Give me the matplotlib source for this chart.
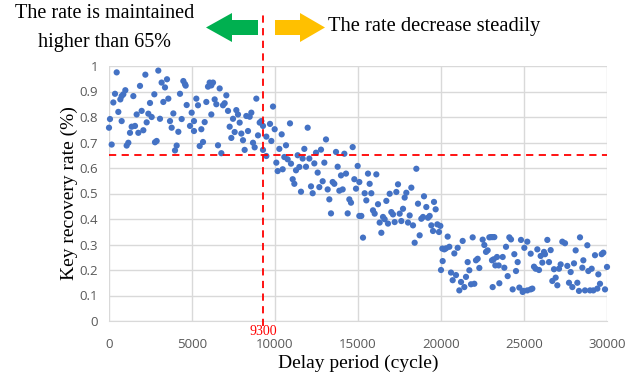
import matplotlib
matplotlib.use("Agg")
import matplotlib.pyplot as plt
from matplotlib.patches import Polygon

# Measured key recovery rate vs. delay period, grouped by 5000-cycle span
delay_0_5k = [463, 2190, 2970, 3170, 3494, 3373, 4478, 4578, 4618, 361, 261, 984, 863, 763, 683,
              1466, 1867, 2731, 2470, 3273, 3574, 4277, 562, 60, 0, 763, 1666, 1967, 2369, 2570,
              3072, 2269, 2068, 1767, 1566, 1365, 1265, 1165, 1064, 161, 2771, 2871, 3876, 3675,
              4378, 3775, 4177, 4679, 4980, 4880, 4076, 3976]
rate_0_5k = [0.975, 0.966, 0.982, 0.935, 0.948, 0.916, 0.941, 0.929, 0.923, 0.891, 0.857, 0.905,
             0.889, 0.882, 0.869, 0.882, 0.922, 0.889, 0.855, 0.859, 0.872, 0.891, 0.820, 0.792,
             0.758, 0.784, 0.810, 0.824, 0.813, 0.800, 0.793, 0.779, 0.748, 0.738, 0.765, 0.762,
             0.738, 0.699, 0.688, 0.692, 0.701, 0.706, 0.814, 0.784, 0.792, 0.758, 0.742, 0.847,
             0.817, 0.765, 0.688, 0.669]

delay_5k_10k = [5120, 5120, 6064, 6265, 5964, 6164, 6667, 7068, 5261, 5361, 5863, 6365, 6466, 6867,
                6968, 7169, 6164, 5763, 5562, 5663, 5462, 6566, 6767, 7269, 7470, 7670, 7771,
                7871, 8273, 8474, 8574, 7570, 7369, 7972, 8373, 8072, 8172, 8675, 8775, 8976,
                8876, 9078, 9177, 9277, 9478, 9277, 9478, 9880, 9980, 9779, 9699]
rate_5k_10k = [0.745, 0.784, 0.935, 0.935, 0.919, 0.924, 0.912, 0.885, 0.872, 0.846, 0.859, 0.869,
               0.850, 0.846, 0.854, 0.824, 0.810, 0.780, 0.752, 0.702, 0.686, 0.689, 0.658, 0.762,
               0.793, 0.827, 0.810, 0.778, 0.804, 0.801, 0.817, 0.741, 0.718, 0.735, 0.745, 0.709,
               0.671, 0.699, 0.681, 0.728, 0.872, 0.778, 0.784, 0.765, 0.723, 0.671, 0.647, 0.841,
               0.752, 0.706, 0.773]

delay_10k_15k = [10080, 10402, 10903, 11968, 10261, 10663, 10161, 10462, 10562, 10763, 10964,
                 11265, 11466, 11366, 11667, 11767, 11867, 12067, 12369, 12470, 12771, 13072,
                 12972, 12570, 11065, 11165, 11566, 12169, 12269, 12670, 12871, 13173, 13474,
                 13574, 13675, 13775, 13976, 14076, 13876, 14177, 14277, 14679, 14980, 14779,
                 14880, 14478, 14578, 13273, 13373, 14378]
rate_10k_15k = [0.621, 0.732, 0.775, 0.758, 0.675, 0.689, 0.588, 0.595, 0.643, 0.634, 0.617,
                0.591, 0.604, 0.650, 0.637, 0.675, 0.605, 0.637, 0.618, 0.660, 0.672, 0.712,
                0.621, 0.582, 0.556, 0.538, 0.507, 0.528, 0.501, 0.525, 0.548, 0.516, 0.545,
                0.538, 0.663, 0.605, 0.571, 0.516, 0.511, 0.656, 0.578, 0.682, 0.608, 0.556,
                0.519, 0.477, 0.464, 0.477, 0.422, 0.422]

delay_15k_20k = [15080, 15080, 15602, 16104, 15702, 15401, 15802, 15501, 15903, 16004, 15200,
                 15301, 16205, 16305, 16406, 16506, 16606, 16707, 16807, 16908, 17008, 17108,
                 17209, 17309, 17410, 17510, 17610, 17711, 17811, 17911, 18012, 18112, 18213,
                 18313, 18413, 18514, 18614, 18714, 18815, 18915, 18975, 19115, 19216, 19317,
                 19417, 19518, 19578, 19678, 19779, 19879, 19960]
rate_15k_20k = [0.545, 0.412, 0.578, 0.575, 0.538, 0.501, 0.501, 0.473, 0.434, 0.421, 0.412,
                0.327, 0.458, 0.386, 0.346, 0.408, 0.399, 0.471, 0.382, 0.499, 0.427, 0.418,
                0.388, 0.506, 0.536, 0.421, 0.392, 0.440, 0.484, 0.503, 0.386, 0.414, 0.523,
                0.375, 0.307, 0.597, 0.460, 0.336, 0.401, 0.408, 0.489, 0.447, 0.405, 0.412,
                0.375, 0.353, 0.467, 0.438, 0.379, 0.349, 0.373]

delay_20k_25k = [20080, 20402, 21908, 21305, 20200, 20301, 20502, 20803, 21004, 20100, 20000,
                 20602, 20904, 20703, 21205, 21406, 21104, 21606, 21707, 21506, 21807, 22008,
                 22108, 22209, 22309, 22510, 22610, 22711, 22811, 22912, 23012, 23112, 23213,
                 23273, 23373, 23474, 23072, 23173, 23112, 23514, 23715, 23815, 23916, 24016,
                 24116, 24217, 24317, 24417, 24518, 24618, 24718, 24819, 24920, 24960]
rate_20k_25k = [0.284, 0.331, 0.328, 0.314, 0.281, 0.285, 0.291, 0.265, 0.287, 0.235, 0.200,
                0.190, 0.180, 0.160, 0.153, 0.133, 0.120, 0.231, 0.199, 0.173, 0.144, 0.146,
                0.238, 0.244, 0.208, 0.319, 0.298, 0.271, 0.277, 0.328, 0.329, 0.329, 0.329,
                0.218, 0.251, 0.218, 0.238, 0.242, 0.133, 0.148, 0.251, 0.209, 0.291, 0.176,
                0.328, 0.320, 0.124, 0.262, 0.196, 0.231, 0.131, 0.318, 0.114, 0.118]

delay_25k_30k = [25020, 25200, 25402, 25602, 25702, 25803, 25904, 26004, 26104, 26205, 26265,
                 26406, 26506, 26606, 26707, 26807, 26908, 27008, 27108, 27209, 27309, 27470,
                 27610, 27711, 27811, 27912, 28012, 28112, 28213, 28313, 28373, 28514, 28574,
                 28675, 28815, 28875, 28976, 29076, 29177, 29277, 29418, 29478, 29578, 29679,
                 29779, 29880, 30000, 25200, 25402, 25502]
rate_25k_30k = [0.287, 0.311, 0.264, 0.213, 0.205, 0.281, 0.200, 0.255, 0.229, 0.271, 0.262,
                0.318, 0.231, 0.278, 0.157, 0.203, 0.170, 0.140, 0.205, 0.222, 0.311, 0.305,
                0.216, 0.150, 0.192, 0.133, 0.226, 0.277, 0.150, 0.118, 0.328, 0.209, 0.238,
                0.120, 0.297, 0.196, 0.120, 0.205, 0.120, 0.258, 0.127, 0.183, 0.146, 0.262,
                0.268, 0.124, 0.212, 0.120, 0.124, 0.127]

threshold_delay = 9300
threshold_rate = 0.65
x_ticks = [0, 5000, 10000, 15000, 20000, 25000, 30000]
y_ticks = [0, 0.1, 0.2, 0.3, 0.4, 0.5, 0.6, 0.7, 0.8, 0.9, 1]
y_tick_labels = ["0", "0.1", "0.2", "0.3", "0.4", "0.5", "0.6", "0.7", "0.8", "0.9", "1"]

delays = (delay_0_5k + delay_5k_10k + delay_10k_15k + delay_15k_20k
          + delay_20k_25k + delay_25k_30k)
rates = (rate_0_5k + rate_5k_10k + rate_10k_15k + rate_15k_20k
         + rate_20k_25k + rate_25k_30k)

W, H = 642, 380
fig = plt.figure(figsize=(W / 100, H / 100), dpi=100)
ax = fig.add_axes([109 / W, 1 - 321 / H, 498 / W, 255 / H])

SERIF = "Liberation Serif"
TICK_FONT = "Open Sans"
GRID = "#d9d9d9"

ax.scatter(delays, rates, s=20, color="#4472c4", edgecolors="none", zorder=3, clip_on=False)

ax.set_xlim(0, 30000)
ax.set_ylim(0, 1)
ax.set_xticks(x_ticks)
ax.set_yticks(y_ticks)
ax.set_yticklabels(y_tick_labels)
ax.grid(True, color=GRID, linewidth=1)
ax.set_axisbelow(True)
for side in ("top", "right", "left"):
    ax.spines[side].set_visible(False)
ax.spines["bottom"].set_color(GRID)
ax.tick_params(length=0, colors="#595959", labelsize=9.5)
ax.tick_params(axis="x", pad=12)
ax.tick_params(axis="y", pad=8)
for lab in ax.get_xticklabels() + ax.get_yticklabels():
    lab.set_fontfamily(TICK_FONT)

ax.set_xlabel("Delay period (cycle)", fontfamily=SERIF, fontsize=14, labelpad=3)
ax.set_ylabel("Key recovery rate (%)", fontfamily=SERIF, fontsize=14, labelpad=1)

# Threshold guides
ax.axhline(threshold_rate, color="#ff0000", linestyle=(0, (4, 3)), linewidth=1.3, zorder=4)
ax.plot([threshold_delay, threshold_delay], [-0.02, 1.22], color="#ff0000",
        linestyle=(0, (4, 3)), linewidth=1.3, zorder=4, clip_on=False)
ax.text(threshold_delay, -0.015, str(threshold_delay), color="#ff0000", fontfamily=SERIF,
        fontsize=10, ha="center", va="top")


def px(x, y):
    return (x / W, 1 - y / H)


# Direction arrows around the threshold
green = [px(206, 27.5), px(232, 13), px(232, 20), px(258, 20), px(258, 35), px(232, 35), px(232, 42)]
yellow = [px(275, 20), px(300, 20), px(300, 13), px(325, 27.5), px(300, 42), px(300, 35), px(275, 35)]
fig.add_artist(Polygon(green, closed=True, transform=fig.transFigure, facecolor="#00b050",
                       edgecolor="none"))
fig.add_artist(Polygon(yellow, closed=True, transform=fig.transFigure, facecolor="#ffc000",
                       edgecolor="none"))

fig.text(*px(105, 14), "The rate is maintained", fontfamily=SERIF, fontsize=14.5,
         ha="center", va="center")
fig.text(*px(105, 42), "higher than 65%", fontfamily=SERIF, fontsize=14.5,
         ha="center", va="center")
fig.text(*px(328, 27), "The rate decrease steadily", fontfamily=SERIF, fontsize=14.8,
         ha="left", va="center")

fig.savefig("out.png", dpi=100)
